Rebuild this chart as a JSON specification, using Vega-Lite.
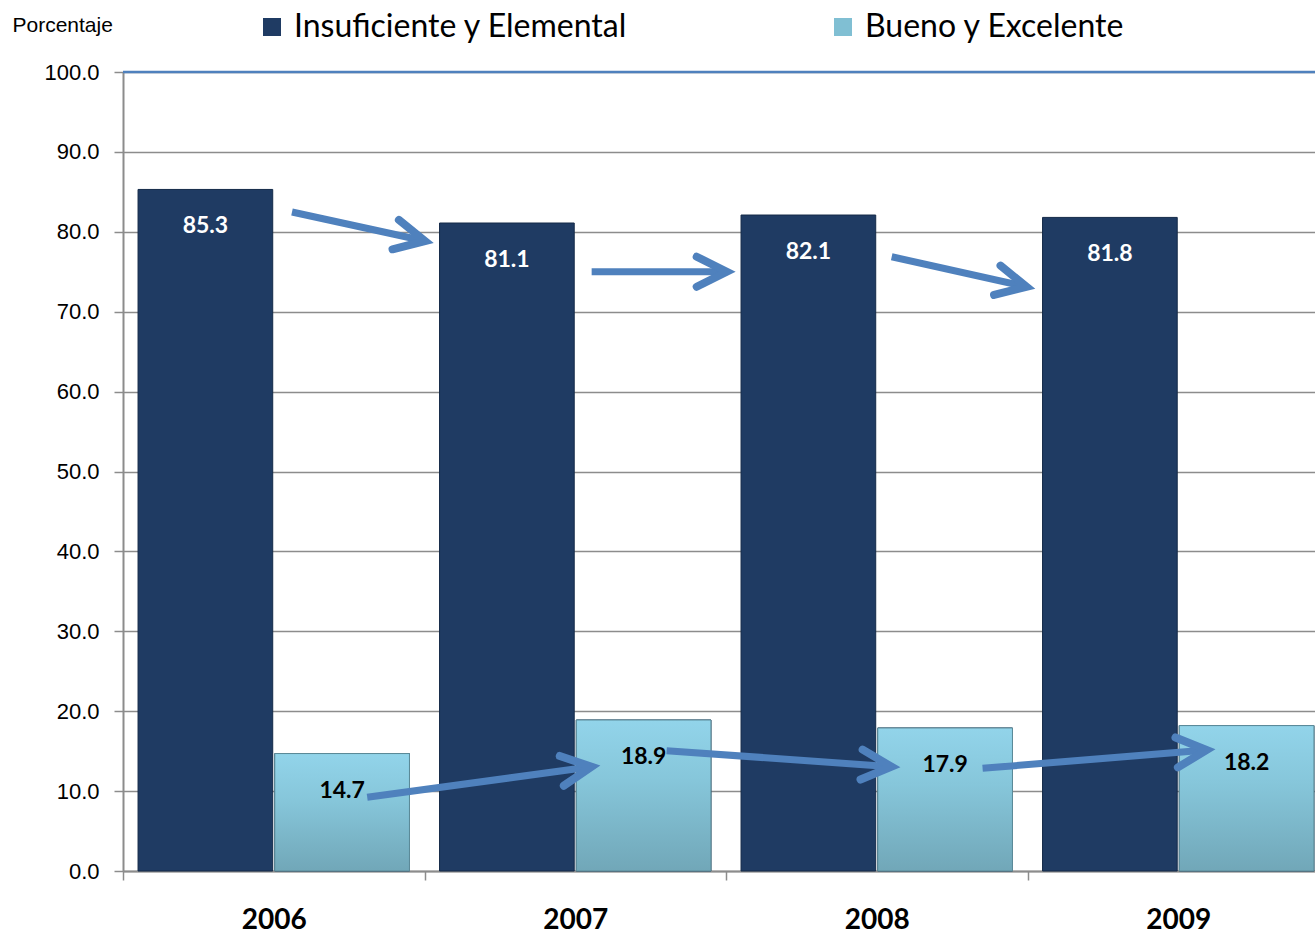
{
  "$schema": "https://vega.github.io/schema/vega-lite/v6.json",
  "width": 1192,
  "height": 799,
  "autosize": {"type": "none"},
  "padding": {"left": 123, "top": 72, "right": 0, "bottom": 63},
  "background": "white",
  "config": {
    "view": {"stroke": null},
    "font": "Lato",
    "axisY": {
      "labelFont": "Liberation Sans", "labelFontSize": 22, "labelColor": "black",
      "format": ".1f", "tickCount": 10,
      "grid": true, "gridColor": "#8c8c8c", "gridWidth": 1.5,
      "domainColor": "#8c8c8c", "domainWidth": 2,
      "tickColor": "#8c8c8c", "tickSize": 9, "tickWidth": 1.5, "labelPadding": 15,
      "titleAngle": 0, "titleFont": "Liberation Sans", "titleFontSize": 21, "titleFontWeight": "normal",
      "titleColor": "black", "titleX": -111, "titleY": -47, "titleAlign": "left", "titleBaseline": "middle"
    }
  },
  "datasets": {
    "bars": [
      {"year": "2006", "series": "Insuficiente y Elemental", "value": 85.3},
      {"year": "2006", "series": "Bueno y Excelente", "value": 14.7},
      {"year": "2007", "series": "Insuficiente y Elemental", "value": 81.1},
      {"year": "2007", "series": "Bueno y Excelente", "value": 18.9},
      {"year": "2008", "series": "Insuficiente y Elemental", "value": 82.1},
      {"year": "2008", "series": "Bueno y Excelente", "value": 17.9},
      {"year": "2009", "series": "Insuficiente y Elemental", "value": 81.8},
      {"year": "2009", "series": "Bueno y Excelente", "value": 18.2}
    ],
    "arrows": [
      {"u": 0.5605, "v": 82.48, "u2": 1.0017, "v2": 78.85, "angle": 12.3},
      {"u": 1.5544, "v": 75.0, "u2": 2.0023, "v2": 75.0, "angle": 0},
      {"u": 2.5496, "v": 76.88, "u2": 2.997, "v2": 73.12, "angle": 12.5},
      {"u": 0.810, "v": 9.22, "u2": 1.554, "v2": 13.05, "angle": -7.8},
      {"u": 1.803, "v": 15.06, "u2": 2.549, "v2": 13.05, "angle": 4.1},
      {"u": 2.851, "v": 12.85, "u2": 3.594, "v2": 15.14, "angle": -4.6}
    ],
    "top": [{"level": 100}]
  },
  "layer": [
    {
      "layer": [
        {
          "data": {"name": "bars"},
          "mark": {"type": "bar", "stroke": "#142a48", "strokeWidth": 1},
          "encoding": {
            "x": {"field": "year", "type": "nominal",
              "scale": {"range": [0, 1206], "paddingInner": 0, "paddingOuter": 0},
              "axis": {"title": null, "labelFont": "Lato", "labelFontWeight": "bold", "labelFontSize": 28,
                "labelColor": "black", "labelPadding": 26, "tickBand": "extent", "tickSize": 9,
                "tickColor": "#8c8c8c", "tickWidth": 1.5, "domainColor": "#8c8c8c", "domainWidth": 2,
                "labelAngle": 0, "grid": false}},
            "xOffset": {"field": "series", "type": "nominal",
              "scale": {"domain": ["Insuficiente y Elemental", "Bueno y Excelente"], "paddingInner": 0.015, "paddingOuter": 0.11}},
            "y": {"field": "value", "type": "quantitative", "title": "Porcentaje", "scale": {"domain": [0, 100], "nice": false}},
            "color": {"field": "series", "type": "nominal",
              "scale": {"domain": ["Insuficiente y Elemental", "Bueno y Excelente"], "range": ["#1f3b63", "#80bfd3"]},
              "legend": {"title": null, "orient": "none", "legendX": 133, "legendY": -61, "direction": "horizontal",
                "labelFont": "Lato", "labelFontSize": 32, "labelColor": "black", "symbolType": "square",
                "symbolSize": 324, "symbolStrokeWidth": 0, "labelOffset": 6, "columnPadding": 199, "labelLimit": 600}}
          }
        },
        {
          "data": {"name": "bars"},
          "transform": [{"filter": "datum.series === 'Bueno y Excelente'"}],
          "mark": {"type": "bar", "stroke": "#5c8b99", "strokeWidth": 1,
            "fill": {"gradient": "linear", "x1": 0, "y1": 0, "x2": 0, "y2": 1,
              "stops": [{"offset": 0, "color": "#92d4ea"}, {"offset": 0.4, "color": "#86c6da"}, {"offset": 1, "color": "#71a7b8"}]}},
          "encoding": {
            "x": {"field": "year", "type": "nominal"},
            "xOffset": {"field": "series", "type": "nominal"},
            "y": {"field": "value", "type": "quantitative", "title": "Porcentaje"}
          }
        },
        {
          "data": {"name": "bars"},
          "mark": {"type": "text", "font": "Lato", "fontWeight": "bold", "fontSize": 23, "baseline": "middle", "dy": 37},
          "encoding": {
            "x": {"field": "year", "type": "nominal"},
            "xOffset": {"field": "series", "type": "nominal"},
            "y": {"field": "value", "type": "quantitative", "title": "Porcentaje"},
            "text": {"field": "value", "type": "quantitative", "format": ".1f"},
            "color": {"condition": {"test": "datum.series === 'Insuficiente y Elemental'", "value": "white"}, "value": "black"}
          }
        },
        {
          "data": {"name": "top"},
          "mark": {"type": "rule", "color": "#4f81bd", "strokeWidth": 2.5},
          "encoding": {"y": {"field": "level", "type": "quantitative", "title": "Porcentaje"}}
        }
      ]
    },
    {
      "data": {"name": "arrows"},
      "layer": [
        {
          "mark": {"type": "rule", "color": "#4f81bd", "strokeWidth": 7},
          "encoding": {
            "x": {"field": "u", "type": "quantitative", "scale": {"domain": [0, 4], "range": [0, 1206], "nice": false, "zero": false}, "axis": null},
            "x2": {"field": "u2"},
            "y": {"field": "v", "type": "quantitative", "title": "Porcentaje"},
            "y2": {"field": "v2"}
          }
        },
        {
          "mark": {"type": "point", "shape": "M-1,-0.5L0,0L-1,0.5", "filled": false, "stroke": "#4f81bd",
            "strokeWidth": 8, "strokeCap": "round", "strokeJoin": "miter", "size": 3600, "opacity": 1},
          "encoding": {
            "x": {"field": "u2", "type": "quantitative", "axis": null},
            "y": {"field": "v2", "type": "quantitative", "title": "Porcentaje"},
            "angle": {"field": "angle", "type": "quantitative", "scale": null}
          }
        }
      ]
    }
  ],
  "resolve": {"scale": {"x": "independent"}}
}
